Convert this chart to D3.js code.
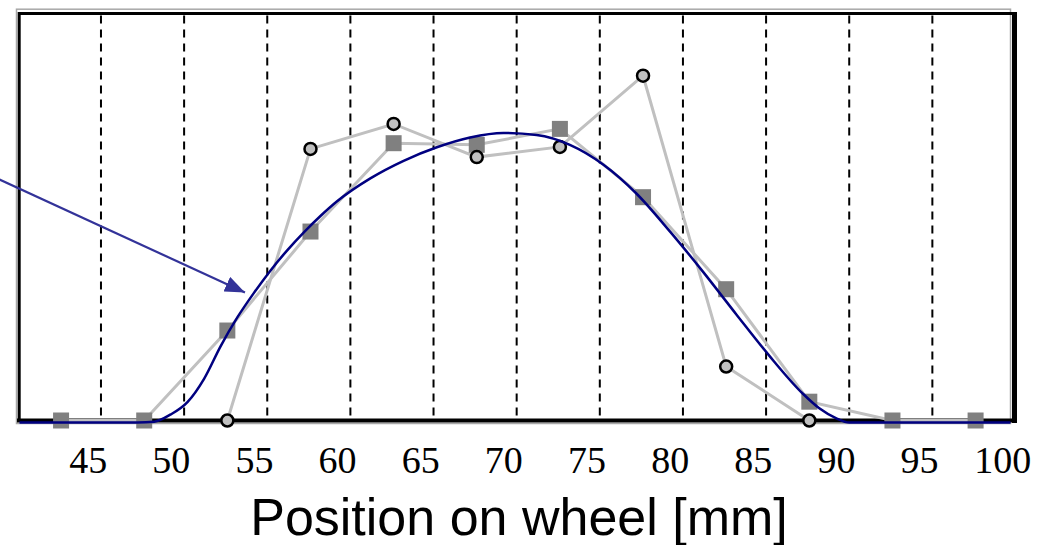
<!DOCTYPE html>
<html>
<head>
<meta charset="utf-8">
<script src="https://cdn.jsdelivr.net/npm/d3@7"></script>
<style>
  body { margin: 0; background: #fff; }
</style>
</head>
<body>
<svg width="1043" height="545"></svg>
<script>
// tick labels on the position axis (mm)
const tickLabels = [45, 50, 55, 60, 65, 70, 75, 80, 85, 90, 95, 100];
// dashed separators between measurement positions
const gridPositions = [45.8, 50.8, 55.8, 60.8, 65.8, 70.8, 75.8, 80.8, 85.8, 90.8, 95.8];

// square series
const squareX = [43.4, 48.4, 53.4, 58.4, 63.4, 68.4, 73.4, 78.4, 83.4, 88.4, 93.4, 98.4];
const squareY = [0, 0, 22.0, 46.2, 67.8, 67.4, 71.3, 54.6, 32.1, 4.6, 0, 0];

// circle series
const circleX = [53.4, 58.4, 63.4, 68.4, 73.4, 78.4, 83.4, 88.4];
const circleY = [0, 66.4, 72.5, 64.4, 66.9, 84.3, 13.2, 0];

// fitted curve (navy)
const curveX = [40.9, 48, 49, 50, 51, 52, 53, 54, 55, 56, 57, 58, 59, 60, 62, 64, 66, 68, 70,
  72, 74, 76, 78, 80, 82, 84, 86, 88, 89, 90, 90.8, 100.5];
const curveY = [-0.5, -0.5, -0.3, 1.5, 4.5, 10.2, 18.2, 25.2, 31.2, 36.7, 41.6, 46.0, 50.0, 53.6,
  59.2, 63.5, 66.8, 69.2, 70.3, 69.8, 67.4, 62.6, 55.5, 46.3, 36.4, 26.0, 15.8, 6.6, 3.0, 0.6, -0.5, -0.5];

// annotation arrow (start is off the left edge, label was cropped)
const arrowFrom = [39.7, 58.9];
const arrowTo = [54.46, 31.3];

const svg = d3.select('svg');

const x = d3.scaleLinear().domain([40.87, 100.77]).range([19, 1015]);
const y = d3.scaleLinear().domain([0, 100]).range([420.5, 11.5]);

const defs = svg.append('defs');
defs.append('marker')
  .attr('id', 'head')
  .attr('markerUnits', 'userSpaceOnUse')
  .attr('viewBox', '0 0 20 16')
  .attr('refX', 20).attr('refY', 8)
  .attr('markerWidth', 20).attr('markerHeight', 16)
  .attr('orient', 'auto')
  .append('path')
  .attr('d', 'M0,0L20,8L0,16Z')
  .attr('fill', '#333399');

// frame: grey outer line + black inner line
svg.append('rect')
  .attr('x', 16.5).attr('y', 9.2)
  .attr('width', 1010.5 - 16.5).attr('height', 423.5 - 9.2)
  .attr('fill', 'none')
  .attr('stroke', '#a8a8a8')
  .attr('stroke-width', 1.5);

// dashed gridlines
svg.append('g')
  .selectAll('line')
  .data(gridPositions)
  .enter()
  .append('line')
  .attr('x1', d => x(d)).attr('x2', d => x(d))
  .attr('y1', y(100) + 4).attr('y2', y(0))
  .attr('stroke', '#000')
  .attr('stroke-width', 2)
  .attr('stroke-dasharray', '8,6');

const frame = svg.append('g').attr('stroke', '#000');
frame.append('line').attr('x1', 18).attr('x2', 1015).attr('y1', 13.5).attr('y2', 13.5).attr('stroke-width', 3);
frame.append('line').attr('x1', 19.2).attr('x2', 19.2).attr('y1', 12).attr('y2', 422).attr('stroke-width', 3);
frame.append('line').attr('x1', 1014.5).attr('x2', 1014.5).attr('y1', 12).attr('y2', 423).attr('stroke-width', 5);
frame.append('line').attr('x1', 17).attr('x2', 1017).attr('y1', y(0)).attr('y2', y(0)).attr('stroke-width', 4);

// x axis labels
const xAxis = d3.axisBottom(x).tickValues(tickLabels).tickSize(0).tickPadding(26);
const gx = svg.append('g')
  .attr('transform', 'translate(0,' + y(0) + ')')
  .call(xAxis);
gx.select('.domain').remove();
gx.selectAll('text')
  .attr('font-family', '"Liberation Serif", "Times New Roman", serif')
  .attr('font-size', 38)
  .attr('fill', '#000');

svg.append('text')
  .attr('x', 519).attr('y', 535)
  .attr('text-anchor', 'middle')
  .attr('font-family', '"Liberation Sans", Arial, sans-serif')
  .attr('font-size', 52)
  .attr('fill', '#000')
  .text('Position on wheel [mm]');

// grey connecting lines
const line = d3.line().x(d => x(d[0])).y(d => y(d[1]));
const squares = squareX.map((v, i) => [v, squareY[i]]);
const circles = circleX.map((v, i) => [v, circleY[i]]);

svg.append('path').datum(squares)
  .attr('d', line).attr('fill', 'none').attr('stroke', '#c0c0c0').attr('stroke-width', 3);
svg.append('path').datum(circles)
  .attr('d', line).attr('fill', 'none').attr('stroke', '#c0c0c0').attr('stroke-width', 3);

svg.append('g').selectAll('rect')
  .data(squares)
  .enter()
  .append('rect')
  .attr('x', d => x(d[0]) - 8).attr('y', d => y(d[1]) - 8)
  .attr('width', 16).attr('height', 16)
  .attr('fill', '#808080');

svg.append('g').selectAll('circle')
  .data(circles)
  .enter()
  .append('circle')
  .attr('cx', d => x(d[0])).attr('cy', d => y(d[1]))
  .attr('r', 6)
  .attr('fill', '#c0c0c0')
  .attr('stroke', '#000')
  .attr('stroke-width', 2.5);

// fitted curve
const curve = curveX.map((v, i) => [v, curveY[i]]);
svg.append('path').datum(curve)
  .attr('d', d3.line().x(d => x(d[0])).y(d => y(d[1])).curve(d3.curveMonotoneX))
  .attr('fill', 'none')
  .attr('stroke', '#000080')
  .attr('stroke-width', 2.5);

// arrow
svg.append('line')
  .attr('x1', x(arrowFrom[0])).attr('y1', y(arrowFrom[1]))
  .attr('x2', x(arrowTo[0])).attr('y2', y(arrowTo[1]))
  .attr('stroke', '#333399')
  .attr('stroke-width', 2.2)
  .attr('marker-end', 'url(#head)');
</script>
</body>
</html>
